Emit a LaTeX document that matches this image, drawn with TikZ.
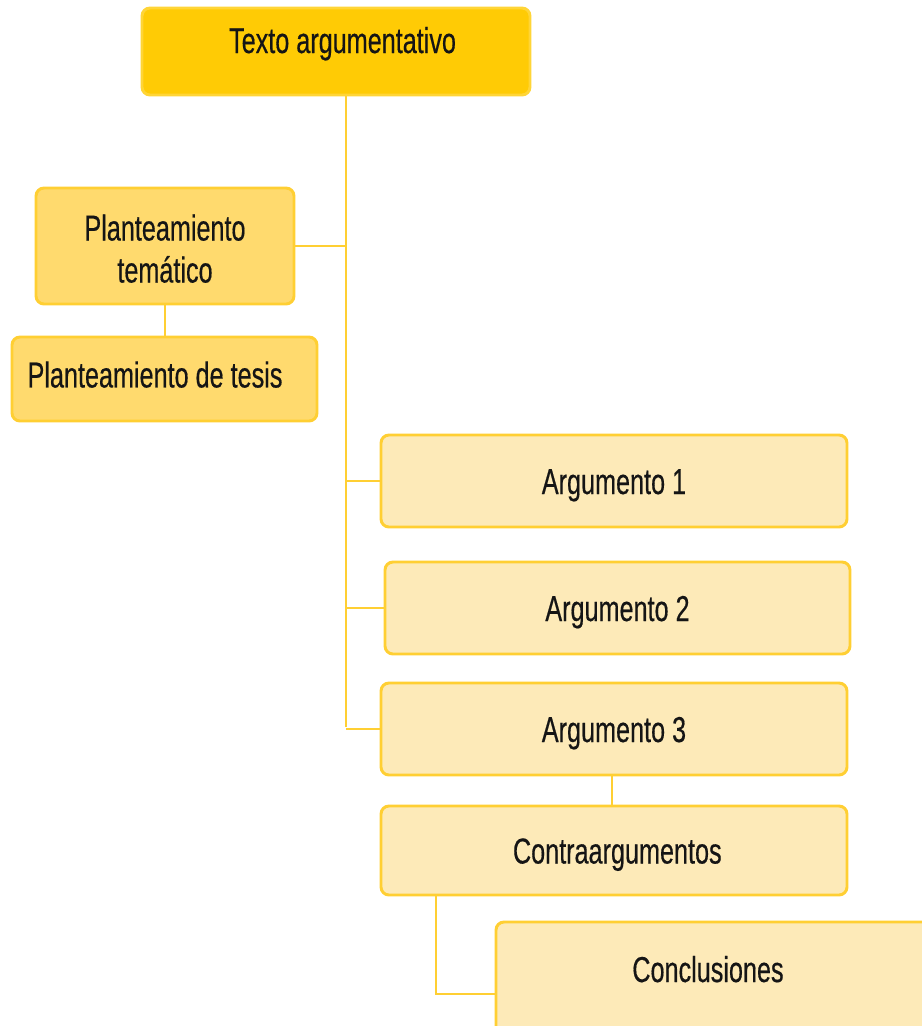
\documentclass[tikz,border=0pt]{standalone}
\usepackage{fontspec}
\setmainfont[FakeStretch=0.7,FakeBold=0.4]{Liberation Sans}
\definecolor{gold}{HTML}{FFCB05}
\definecolor{midfill}{HTML}{FFDA6E}
\definecolor{lightfill}{HTML}{FDEAB8}
\definecolor{edge}{HTML}{FFCF33}
\definecolor{ink}{HTML}{151515}
\begin{document}
\begin{tikzpicture}[x=0.75pt,y=-0.75pt,
  box/.style={draw=edge, line width=2.2pt, rounded corners=6pt, inner sep=0pt,
    text=ink, font=\fontsize{27pt}{31.5pt}\selectfont, align=center,
    text height=19.5pt, text depth=0pt},
  topbox/.style={box, fill=gold, draw=gold!80!white},
  midbox/.style={box, fill=midfill},
  lightbox/.style={box, fill=lightfill},
  lbl/.style={text=ink, font=\fontsize{27pt}{31.5pt}\selectfont, inner sep=0pt,
    text height=19.5pt, text depth=0pt},
  lbltwo/.style={text=ink, font=\fontsize{27pt}{31.5pt}\selectfont, inner sep=0pt,
    align=center},
  conn/.style={draw=edge, line width=2.2pt}]
\clip (0,0) rectangle (922,1026);
\fill[white] (0,0) rectangle (922,1026);

\node[topbox, minimum width=291pt, minimum height=65.25pt,
  label={[lbl, xshift=4.9pt, yshift=8.6pt]center:Texto argumentativo}] (top) at (336,51.5) {};
\node[midbox, minimum width=193.5pt, minimum height=87pt,
  label={[lbltwo, yshift=-2pt]center:Planteamiento\\temático}] (pt) at (165,246) {};
\node[midbox, minimum width=228.75pt, minimum height=63pt,
  label={[lbl, xshift=-7.1pt, yshift=3.4pt]center:Planteamiento de tesis}] (tesis) at (164.5,379) {};
\node[lightbox, minimum width=349.5pt, minimum height=69pt] (a1) at (614,481) {Argumento 1};
\node[lightbox, minimum width=348.75pt, minimum height=69pt] (a2) at (617.5,608) {Argumento 2};
\node[lightbox, minimum width=349.5pt, minimum height=69pt] (a3) at (614,729) {Argumento 3};
\node[lightbox, minimum width=349.5pt, minimum height=66.75pt,
  label={[lbl, xshift=2.5pt]center:Contraargumentos}] (contra) at (614,850.5) {};
\node[lightbox, minimum width=333pt, minimum height=88.5pt,
  label={[lbl, xshift=-7.5pt, yshift=9pt]center:Conclusiones}] (concl) at (718,981) {};

\coordinate (trunk) at (346,727);
\draw[conn] (top.south -| trunk) -- (trunk);
\draw[conn] (pt.east) -- (pt.east -| trunk);
\draw[conn] (a1.west) -- (a1.west -| trunk);
\draw[conn] (a2.west) -- (a2.west -| trunk);
\draw[conn] (a3.west) -- (a3.west -| trunk);
\draw[conn] (tesis.north -| pt.south) -- (pt.south);
\draw[conn] (a3.south -| 612,0) -- (contra.north -| 612,0);
\coordinate (cbend) at (436,994);
\draw[conn] (contra.south -| cbend) -- (cbend) -- (cbend -| concl.west);
\end{tikzpicture}
\end{document}
